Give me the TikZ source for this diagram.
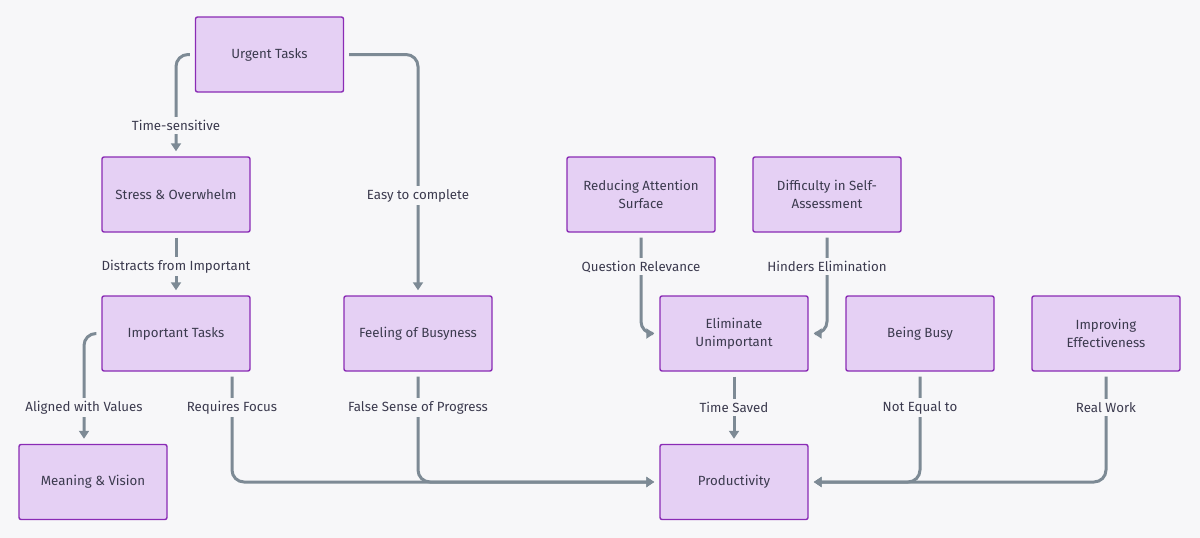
\documentclass[tikz,border=0pt]{standalone}
\usepackage{fontspec}
\setmainfont{Fira Sans}
\usetikzlibrary{arrows.meta}
\definecolor{bg}{HTML}{F7F7F9}
\definecolor{nfill}{HTML}{E5D0F4}
\definecolor{ndraw}{HTML}{8A2BB5}
\definecolor{edgec}{HTML}{7D8A95}
\definecolor{txt}{HTML}{3B3A4E}
\tikzset{
  box/.style={draw=ndraw, fill=nfill, line width=1.4pt, rounded corners=2pt,
    minimum width=148pt, minimum height=75pt, align=center,
    font=\fontsize{13.3}{18}\selectfont, text=txt, inner sep=0pt},
  edge/.style={draw=edgec, line width=3pt, rounded corners=12pt,
    shorten <=5pt, shorten >=5pt, -{Triangle[length=8pt,width=10pt]}},
  lbl/.style={fill=bg, font=\fontsize{13.3}{16}\selectfont, text=txt, inner sep=3pt}
}
\begin{document}
\begin{tikzpicture}[x=1pt,y=-1pt]
\fill[bg] (0,0) rectangle (1200,538);
\useasboundingbox (0,0) rectangle (1200,538);

\node[box] (urg) at (269.5,54.5) {Urgent Tasks};
\node[box] (str) at (176,194.5) {Stress \& Overwhelm};
\node[box] (imp) at (176,333.5) {Important Tasks};
\node[box] (mean) at (93,482) {Meaning \& Vision};
\node[box] (feel) at (418,333.5) {Feeling of Busyness};
\node[box] (red) at (641,194.5) {Reducing Attention\\Surface};
\node[box] (diff) at (827,194.5) {Difficulty in Self-\\Assessment};
\node[box] (elim) at (734,333.5) {Eliminate\\Unimportant};
\node[box] (busy) at (920,333.5) {Being Busy};
\node[box] (impr) at (1106,333.5) {Improving\\Effectiveness};
\node[box] (prod) at (734,482) {Productivity};

\draw[edge] (urg.west) -| (str.north);
\draw[edge] (urg.east) -| (feel.north);
\draw[edge] (str.south) -- (imp.north);
\draw[edge] (imp.west) -| ([xshift=-9pt]mean.north);
\draw[edge] ([xshift=56pt]imp.south) |- (prod.west);
\draw[edge] (feel.south) |- (prod.west);
\draw[edge] (red.south) |- (elim.west);
\draw[edge] (diff.south) |- (elim.east);
\draw[edge] (elim.south) -- (prod.north);
\draw[edge] (busy.south) |- (prod.east);
\draw[edge] (impr.south) |- (prod.east);

\node[lbl] (l1) at (176,125.5) {Time-sensitive};
\node[lbl] (l2) at (418,195.5) {Easy to complete};
\node[lbl] (l3) at (176,266.5) {Distracts from Important};
\node[lbl] (l4) at (84,407.5) {Aligned with Values};
\node[lbl] (l5) at (232,407.5) {Requires Focus};
\node[lbl] (l6) at (418,407.5) {False Sense of Progress};
\node[lbl] (l7) at (641,266.5) {Question Relevance};
\node[lbl] (l8) at (827,266.5) {Hinders Elimination};
\node[lbl] (l9) at (734,407.5) {Time Saved};
\node[lbl] (l10) at (920,407.5) {Not Equal to};
\node[lbl] (l11) at (1106,407.5) {Real Work};
\end{tikzpicture}
\end{document}
